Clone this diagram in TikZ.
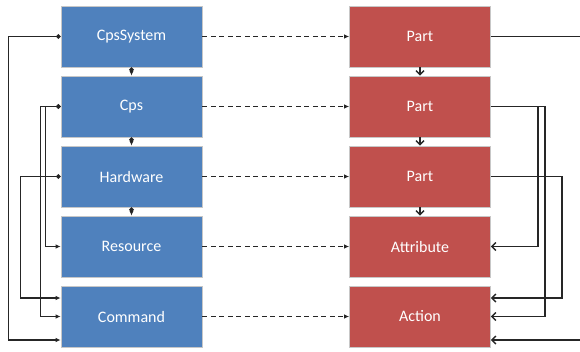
\documentclass[tikz,border=0pt]{standalone}
\usepackage{fontspec}
\setmainfont{Carlito}
\usetikzlibrary{arrows.meta}
\definecolor{boxblue}{HTML}{4F81BD}
\definecolor{boxred}{HTML}{C0504D}
\tikzset{
  basebox/.style={minimum width=141pt, minimum height=61pt, inner sep=0pt,
    draw=black!22, line width=0.7pt, text=white,
    font=\fontsize{16}{19}\selectfont},
  bluebox/.style={basebox, fill=boxblue},
  redbox/.style={basebox, fill=boxred},
  conn/.style={line width=1.4pt, black!85},
  leftlink/.style={conn, {Circle[length=4.5pt]}-{Latex[length=5pt,width=4.5pt]}},
  rightlink/.style={conn, -{Straight Barb[length=4pt,width=8pt]}},
  maplink/.style={conn, dash pattern=on 5pt off 3.5pt, -{Latex[length=5pt,width=4.5pt]}},
  downlink/.style={conn, {Circle[length=4.5pt]}-{Latex[length=5pt,width=4.5pt]}},
  partlink/.style={conn, -{Straight Barb[length=4pt,width=8pt]}}
}
\begin{document}
\begin{tikzpicture}[x=1pt, y=-1pt]
\useasboundingbox (0,0) rectangle (580,351);
\clip (0,0) rectangle (580,351);

% model side
\node[bluebox] (cs)  at (131.5,36.5)  {CpsSystem};
\node[bluebox] (cps) at (131.5,106.5) {Cps};
\node[bluebox] (hw)  at (131.5,176.5) {Hardware};
\node[bluebox] (res) at (131.5,246.5) {Resource};
\node[bluebox] (cmd) at (131.5,316.5) {Command};

% mapped side
\node[redbox] (p1)   at (420,36.5)  {Part};
\node[redbox] (p2)   at (420,106.5) {Part};
\node[redbox] (p3)   at (420,176.5) {Part};
\node[redbox] (attr) at (420,246.5) {Attribute};
\node[redbox] (act)  at (420,316.5) {Action};

% containment on the model side
\draw[downlink] (cs.south)  -- (cps.north);
\draw[downlink] (cps.south) -- (hw.north);
\draw[downlink] (hw.south)  -- (res.north);

% containment on the mapped side
\draw[partlink] (p1.south) -- (p2.north);
\draw[partlink] (p2.south) -- (p3.north);
\draw[partlink] (p3.south) -- (attr.north);

% mappings
\foreach \a/\b in {cs/p1, cps/p2, hw/p3, res/attr, cmd/act}
  \draw[maplink] (\a.east) -- (\b.west);

% references on the model side
\draw[leftlink] (cs.west)  -- ++(-52,0) |- ([yshift=-23.5pt]cmd.west);
\draw[leftlink] (cps.west) -- ++(-20,0) |- (cmd.west);
\draw[leftlink] (cps.west) -- ++(-15,0) |- (res.west);
\draw[leftlink] (hw.west)  -- ++(-40,0) |- ([yshift=18.5pt]cmd.west);

% references on the mapped side
\draw[rightlink] (p1.east) -- ++(94,0) |- ([yshift=-23.5pt]act.east);
\draw[rightlink] (p2.east) -- ++(47,0) |- (attr.east);
\draw[rightlink] (p2.east) -- ++(54,0) |- (act.east);
\draw[rightlink] (p3.east) -- ++(71,0) |- ([yshift=18.5pt]act.east);
\end{tikzpicture}
\end{document}
